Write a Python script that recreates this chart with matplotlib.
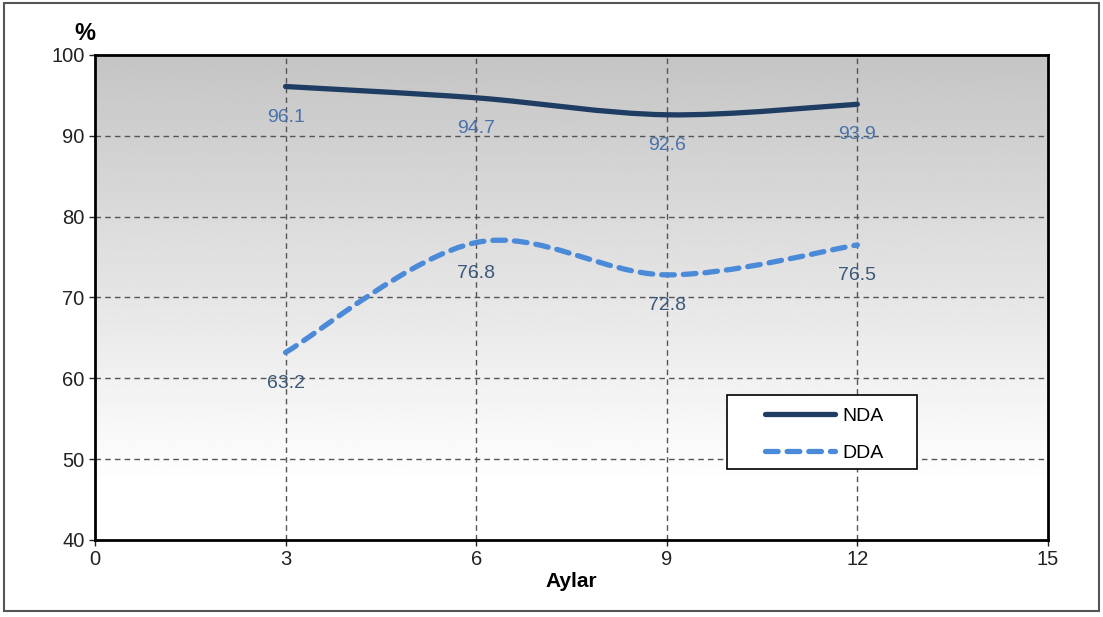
import numpy as np
import matplotlib.pyplot as plt
from matplotlib.path import Path
from matplotlib.patches import PathPatch, Rectangle
from matplotlib.lines import Line2D

plt.rcParams['font.family'] = ['Liberation Sans', 'DejaVu Sans']

months = [3, 6, 9, 12]
nda = [96.1, 94.7, 92.6, 93.9]
dda = [63.2, 76.8, 72.8, 76.5]
x_ticks = [0, 3, 6, 9, 12, 15]
y_ticks = [40, 50, 60, 70, 80, 90, 100]

nda_color = '#1f3d63'
dda_color = '#4a8ad8'


def smooth_path(xs, ys):
    # Excel-style smoothed line: Catmull-Rom as cubic Bezier
    pts = np.column_stack([xs, ys]).astype(float)
    ext = np.vstack([pts[0], pts, pts[-1]])
    verts = [pts[0]]
    codes = [Path.MOVETO]
    for i in range(len(pts) - 1):
        p0, p1, p2, p3 = ext[i], ext[i + 1], ext[i + 2], ext[i + 3]
        c1 = p1 + (p2 - p0) / 6
        c2 = p2 - (p3 - p1) / 6
        verts += [c1, c2, p2]
        codes += [Path.CURVE4] * 3
    return Path(verts, codes)


fig = plt.figure(figsize=(11.03, 6.17), dpi=100)
ax = fig.add_axes([0.0861, 0.1248, 0.864, 0.7861])

# gradient background, gray at top fading to white at bottom
grad = np.clip(np.linspace(1.03, 0.77, 256), 0, 1).reshape(-1, 1)
ax.imshow(grad, extent=[0, 15, 40, 100], cmap='gray', vmin=0, vmax=1,
          aspect='auto', zorder=0, origin='lower')
ax.set_xlim(0, 15)
ax.set_ylim(40, 100)

ax.set_xticks(x_ticks)
ax.set_yticks(y_ticks)
for v in x_ticks[1:-1]:
    ax.axvline(v, color='#555555', lw=1, ls=(0, (4, 3)), zorder=1)
for v in y_ticks[1:-1]:
    ax.axhline(v, color='#555555', lw=1, ls=(0, (4, 3)), zorder=1)

nda_patch = PathPatch(smooth_path(months, nda), fill=False, edgecolor=nda_color,
                      lw=3.8, capstyle='round', zorder=3)
dda_patch = PathPatch(smooth_path(months, dda), fill=False, edgecolor=dda_color,
                      lw=3.8, capstyle='round', linestyle=(0, (2.4, 1.7)), zorder=3)
ax.add_patch(nda_patch)
ax.add_patch(dda_patch)

for x, y in zip(months, nda):
    ax.annotate(f'{y:.1f}', (x, y), xytext=(0, -22), textcoords='offset points',
                ha='center', va='center', fontsize=14, color='#4a72aa', zorder=4)
for x, y in zip(months, dda):
    ax.annotate(f'{y:.1f}', (x, y), xytext=(0, -22), textcoords='offset points',
                ha='center', va='center', fontsize=14, color='#3b5878', zorder=4)

for s in ax.spines.values():
    s.set_linewidth(2)
    s.set_color('black')
ax.tick_params(labelsize=14.5, length=4, width=1, colors='#222222')

ax.set_xlabel('Aylar', fontsize=15, fontweight='bold', labelpad=2)
fig.text(0.077, 0.945, '%', fontsize=17, fontweight='bold', ha='center', va='center')

# legend box drawn separately so the entries sit centred as in the original
ax.add_patch(Rectangle((0.663, 0.146), 0.2, 0.153, transform=ax.transAxes,
                       facecolor='white', edgecolor='black', lw=1.2, zorder=5))
handles = [Line2D([], [], color=nda_color, lw=3.8, solid_capstyle='round'),
           Line2D([], [], color=dda_color, lw=3.8, ls=(0, (2.4, 1.7)),
                  dash_capstyle='round')]
leg = ax.legend(handles, ['NDA', 'DDA'], loc='center left',
                bbox_to_anchor=(0.703, 0.218), borderaxespad=0, borderpad=0,
                fontsize=14, frameon=False, handlelength=3.6,
                handletextpad=0.4, labelspacing=1.0)
leg.set_zorder(6)

# outer frame
fig.patches.append(Rectangle((0.004, 0.01), 0.992, 0.985, transform=fig.transFigure,
                             fill=False, edgecolor='#555555', lw=1.5))

fig.savefig('out.png', dpi=100)
